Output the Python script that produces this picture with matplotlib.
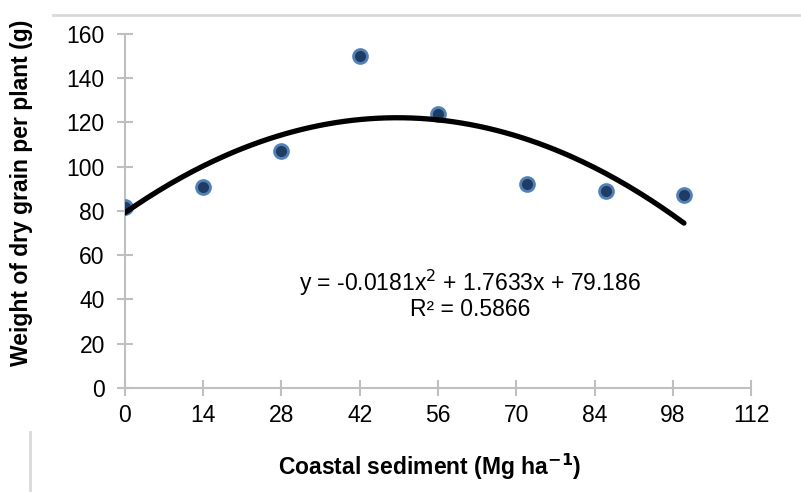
import numpy as np
import matplotlib.pyplot as plt
from matplotlib.lines import Line2D

plt.rcParams['font.family'] = ['Liberation Sans', 'DejaVu Sans']

# data
sediment = [0, 14, 28, 42, 56, 72, 86, 100]
grain_weight = [82, 91, 107, 150, 124, 92, 89, 87]
# quadratic trendline shown on the chart
trend_coef = [-0.0181, 1.7633, 79.186]
x_ticks = [0, 14, 28, 42, 56, 70, 84, 98, 112]
y_ticks = [0, 20, 40, 60, 80, 100, 120, 140, 160]

fig = plt.figure(figsize=(8.01, 4.92), dpi=100)
ax = fig.add_axes([0.156, 0.2114, 0.7816, 0.7196])

xs = np.linspace(0, 100, 200)
ax.plot(xs, np.polyval(trend_coef, xs), color='black', lw=3.8, solid_capstyle='round', zorder=3)
ax.plot(sediment, grain_weight, 'o', ms=10, mfc='#1f3d63', mec='#4f81bd', mew=2, zorder=2)

ax.set_xlim(0, 112)
ax.set_ylim(0, 160)
ax.set_xticks(x_ticks)
ax.set_yticks(y_ticks)
ax.tick_params(direction='inout', length=11, width=1.5, color='#bfbfbf', labelsize=16.5)
ax.tick_params(axis='y', pad=9)
ax.tick_params(axis='x', pad=6)
for s in ['top', 'right']:
    ax.spines[s].set_visible(False)
for s in ['left', 'bottom']:
    ax.spines[s].set_color('#bfbfbf')
    ax.spines[s].set_linewidth(1.5)
ax.spines['left'].set_zorder(1)

ax.text(61.7, 42.5, 'y = -0.0181x$^2$ + 1.7633x + 79.186\nR² = 0.5866', ha='center', va='center',
        fontsize=16.5, linespacing=1.0)

fig.text(0.537, 0.051, 'Coastal sediment (Mg ha$^{\\mathbf{-1}}$)', ha='center', va='center',
         fontsize=16.5, fontweight='bold')
fig.text(0.027, 0.609, 'Weight of dry grain per plant (g)', ha='center', va='center',
         rotation=90, fontsize=16.5, fontweight='bold')

# frame remnants from the original figure
fig.add_artist(Line2D([53 / 801, 1], [1 - 15 / 492] * 2, color='#d9d9d9', lw=2))
fig.add_artist(Line2D([30 / 801] * 2, [0, 1 - 432 / 492], color='#d9d9d9', lw=2))

fig.savefig('out.png', dpi=100)
